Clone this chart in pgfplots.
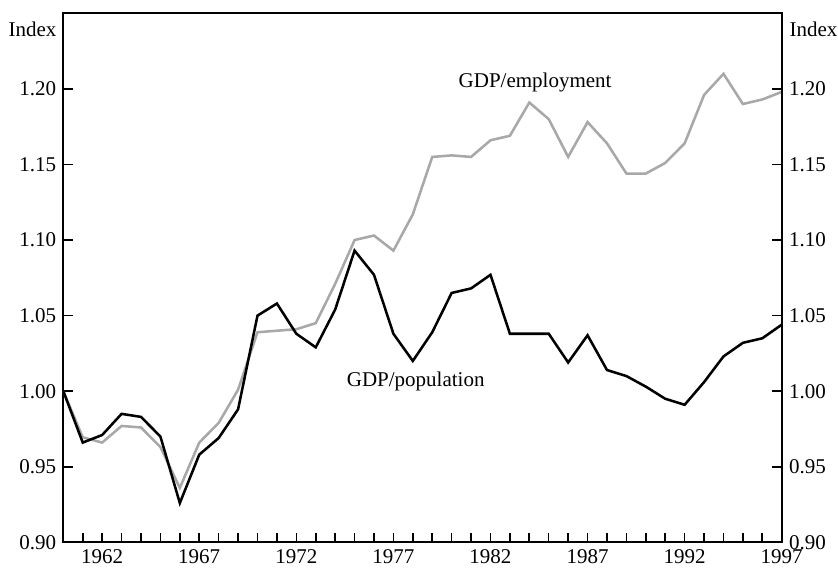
\documentclass[border=0pt]{standalone}
\usepackage{fontspec}
\setmainfont{Liberation Serif}
\usepackage{pgfplots}
\pgfplotsset{compat=1.18}

\definecolor{empgray}{RGB}{168,168,168}

\pgfplotstableread{
year pop emp
1960 1.000 1.000
1961 0.966 0.9695
1962 0.971 0.966
1963 0.985 0.977
1964 0.983 0.976
1965 0.970 0.963
1966 0.926 0.936
1967 0.958 0.966
1968 0.969 0.979
1969 0.988 1.001
1970 1.050 1.039
1971 1.058 1.040
1972 1.038 1.041
1973 1.029 1.045
1974 1.054 1.071
1975 1.093 1.100
1976 1.077 1.103
1977 1.038 1.093
1978 1.020 1.117
1979 1.039 1.155
1980 1.065 1.156
1981 1.068 1.155
1982 1.077 1.166
1983 1.038 1.169
1984 1.038 1.191
1985 1.038 1.180
1986 1.019 1.155
1987 1.037 1.178
1988 1.014 1.164
1989 1.010 1.144
1990 1.003 1.144
1991 0.995 1.151
1992 0.991 1.164
1993 1.006 1.196
1994 1.023 1.210
1995 1.032 1.190
1996 1.035 1.193
1997 1.044 1.198
}\gdpdata

\begin{document}
\fontsize{15.75}{18}\selectfont
\begin{tikzpicture}
\pgfplotsset{
  common/.style={
    width=538.8pt, height=396.75pt, scale only axis,
    xmin=1960, xmax=1997, ymin=0.90, ymax=1.25,
    ytick={0.90,0.95,...,1.21},
    tick align=inside,
    major tick length=7pt, minor tick length=7pt,
    tick style={line width=1.2pt, black},
    axis line style={line width=1.4pt},
    /pgf/number format/assume math mode=true,
    yticklabel style={/pgf/number format/fixed, /pgf/number format/fixed zerofill, /pgf/number format/precision=2},
    tick label style={font=\fontsize{15.75}{18}\selectfont},
  }
}
\begin{axis}[common,
  xtick={1962,1967,...,1997},
  minor xtick={1960,...,1997},
  xtick pos=bottom, ytick pos=left,
  xticklabel style={/pgf/number format/1000 sep={}},
  clip=false,
]
\addplot[empgray, line width=1.9pt] table[x=year, y=emp] {\gdpdata};
\addplot[black, line width=1.9pt] table[x=year, y=pop] {\gdpdata};
\node[anchor=east, inner sep=0pt] at ([xshift=-5pt]rel axis cs:0,0.9695) {Index};
\node at (axis cs:1984.3,1.204) {GDP/employment};
\node at (axis cs:1978.15,1.0063) {GDP/population};
\end{axis}
\begin{axis}[common,
  axis x line=none,
  axis y line*=right,
  ytick pos=right, yticklabel pos=right,
  clip=false,
]
\node[anchor=west, inner sep=0pt] at ([xshift=5.7pt]rel axis cs:1,0.9695) {Index};
\end{axis}
\pgfresetboundingbox
\path[use as bounding box] ([xshift=-47.5pt,yshift=-20.8pt]current axis.south west) rectangle ([xshift=42.2pt,yshift=10pt]current axis.north east);
\end{tikzpicture}
\end{document}
